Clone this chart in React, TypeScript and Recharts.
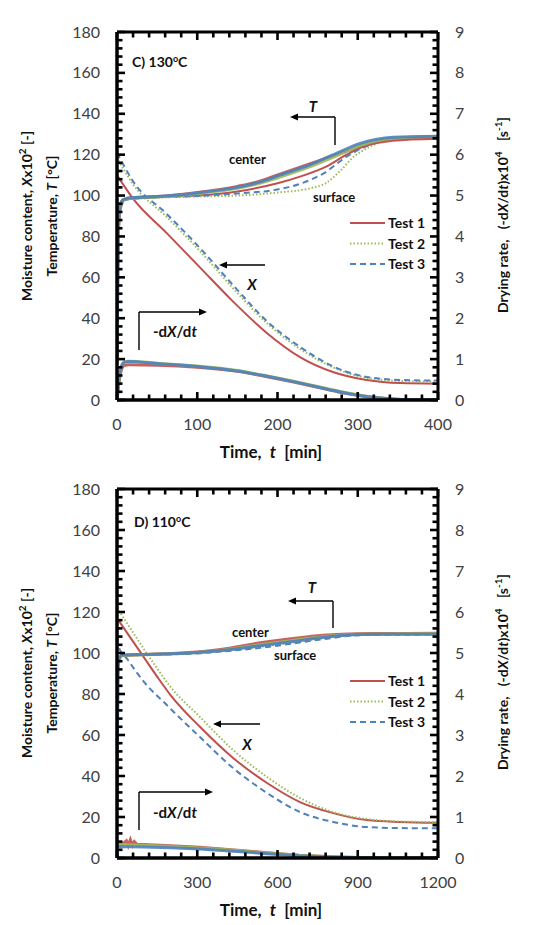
import React from 'react';
import { ComposedChart, Line, XAxis, YAxis } from 'recharts';

type Pt = [number, number];

const RED = '#C0504D';
const GREEN = '#9BBB59';
const BLUE = '#4F81BD';
const FONT = 'Lato, "Open Sans", sans-serif';

// Shared left/right axis ticks
const leftMajor = [0, 20, 40, 60, 80, 100, 120, 140, 160, 180];
const rightMajor = [0, 1, 2, 3, 4, 5, 6, 7, 8, 9];

// ---------- Panel C (130 °C) ----------
const cTimeMajor = [0, 100, 200, 300, 400];

const cCenterT1: Pt[] = [[0, 18], [1, 62], [2, 86], [4, 95], [8, 98], [20, 99], [50, 99.5], [100, 101.5], [150, 104.5], [178, 107], [203, 110.5], [240, 115.5], [274, 120], [303, 124], [344, 127], [400, 128]];
const cCenterT2: Pt[] = [[0, 19], [1, 60], [2, 85], [4, 94.5], [8, 97.8], [20, 98.8], [50, 99.3], [100, 101], [150, 103.5], [178, 106], [203, 109], [240, 114], [274, 119.5], [303, 124.5], [344, 128], [400, 129]];
const cCenterT3: Pt[] = [[0, 20], [1, 65], [2, 88], [4, 95.5], [8, 98], [20, 99], [50, 99.5], [100, 101.3], [150, 104], [178, 106.6], [203, 110], [240, 115], [274, 120.8], [303, 125.5], [344, 128.5], [400, 129]];

const cSurfT1: Pt[] = [[0, 18], [2, 80], [5, 94], [10, 98], [50, 99.3], [100, 100], [150, 102], [200, 106], [230, 109.5], [260, 114], [286, 120], [310, 124.5], [340, 127], [400, 128]];
const cSurfT2: Pt[] = [[0, 19], [2, 80], [5, 94], [10, 98], [50, 99], [100, 99.5], [150, 100], [200, 101.5], [240, 103.5], [260, 106], [278, 112], [295, 119], [311, 123], [328, 126], [350, 127.5], [400, 128.5]];
const cSurfT3: Pt[] = [[0, 20], [2, 82], [5, 95], [10, 98], [50, 99.2], [100, 99.8], [150, 101], [200, 103], [230, 106], [258, 111], [286, 119], [310, 124], [340, 127.5], [400, 129]];

const cX1: Pt[] = [[0, 110], [20, 98.5], [62, 81.6], [103, 65], [145, 48], [187, 32.7], [228, 21], [269, 13.7], [311, 9.8], [353, 8.3], [400, 8]];
const cX2: Pt[] = [[0, 118.5], [20, 105.5], [62, 89.5], [103, 73], [145, 54.5], [187, 37.5], [228, 25], [269, 16], [311, 10.8], [353, 9.3], [400, 9]];
const cX3: Pt[] = [[0, 121], [20, 107], [62, 91], [103, 74.5], [145, 56], [187, 38.5], [228, 26], [269, 16.5], [311, 11.3], [353, 9.8], [400, 9.5]];

const cRate1: Pt[] = [[0, 0], [2, 0.35], [5, 0.7], [9, 0.84], [15, 0.86], [50, 0.85], [100, 0.8], [150, 0.7], [187, 0.57], [220, 0.44], [250, 0.31], [280, 0.18], [311, 0.08], [340, 0.025], [370, 0.005], [400, 0]];
const cRate2: Pt[] = [[0, 0], [2, 0.4], [5, 0.78], [9, 0.93], [15, 0.95], [50, 0.9], [100, 0.83], [150, 0.72], [187, 0.59], [220, 0.46], [250, 0.33], [280, 0.2], [311, 0.09], [340, 0.03], [370, 0.005], [400, 0]];
const cRate3: Pt[] = [[0, 0], [2, 0.42], [5, 0.8], [9, 0.92], [15, 0.94], [50, 0.89], [100, 0.82], [150, 0.71], [187, 0.58], [220, 0.45], [250, 0.32], [280, 0.19], [311, 0.085], [340, 0.03], [370, 0.005], [400, 0]];

// ---------- Panel D (110 °C) ----------
const dTimeMajor = [0, 300, 600, 900, 1200];

const dCenterT1: Pt[] = [[0, 25], [3, 88], [8, 97], [20, 98.8], [100, 99.3], [200, 99.8], [300, 100.5], [400, 102], [535, 105], [650, 107], [785, 108.8], [900, 109.4], [1000, 109.5], [1200, 109.6]];
const dCenterT2: Pt[] = [[0, 26], [3, 88], [8, 97], [20, 98.8], [100, 99.2], [200, 99.6], [300, 100.3], [400, 101.5], [535, 104], [650, 106], [785, 108.2], [908, 109.2], [1200, 109.4]];
const dCenterT3: Pt[] = [[0, 28], [3, 90], [8, 97.5], [20, 99], [100, 99.3], [200, 99.6], [300, 100.2], [400, 101.3], [535, 103.5], [650, 105.5], [785, 107.8], [908, 109], [1000, 109.2], [1200, 109.2]];

const dSurfT1: Pt[] = [[0, 25], [3, 88], [8, 97], [20, 98.8], [100, 99.2], [200, 99.6], [300, 100.2], [400, 101.3], [535, 103.8], [650, 106], [785, 108.2], [900, 109.2], [1200, 109.5]];
const dSurfT2: Pt[] = [[0, 26], [3, 88], [8, 97], [20, 98.7], [100, 99], [200, 99.4], [300, 100], [400, 101], [535, 103], [650, 105], [785, 107.5], [908, 109], [1200, 109.2]];
const dSurfT3: Pt[] = [[0, 28], [3, 90], [8, 97.5], [20, 98.8], [100, 99], [200, 99.3], [300, 99.8], [400, 100.8], [535, 102.5], [650, 104.5], [785, 107], [908, 108.7], [1200, 109]];

const dX1: Pt[] = [[0, 117], [50, 107.5], [100, 98], [150, 88.5], [200, 79.5], [310, 64], [434, 48.8], [561, 36.6], [684, 27.3], [808, 21.9], [934, 18.5], [1058, 17.6], [1200, 17.2]];
const dX2: Pt[] = [[0, 122], [50, 112], [100, 102], [150, 92.5], [200, 83.5], [310, 68.8], [434, 52.7], [561, 39.5], [684, 29.3], [808, 22.4], [934, 19], [1058, 17.8], [1200, 17.5]];
const dX3: Pt[] = [[0, 112], [3, 104], [41, 96.6], [97, 86.5], [187, 74.5], [310, 59], [434, 43.9], [561, 31.7], [684, 22.4], [808, 17.6], [934, 15.1], [1058, 14.6], [1200, 14.5]];

const dRate1: Pt[] = [[0, 0], [1, 0.36], [20, 0.34], [35, 0.42], [42, 0.3], [50, 0.45], [58, 0.31], [65, 0.4], [75, 0.33], [100, 0.33], [200, 0.3], [310, 0.26], [450, 0.19], [561, 0.13], [680, 0.07], [808, 0.03], [900, 0.012], [1000, 0.004], [1200, 0]];
const dRate2: Pt[] = [[0, 0], [1, 0.33], [100, 0.31], [200, 0.28], [310, 0.245], [450, 0.18], [561, 0.12], [680, 0.065], [808, 0.025], [900, 0.01], [1200, 0]];
const dRate3: Pt[] = [[0, 0], [1, 0.28], [100, 0.27], [200, 0.25], [310, 0.22], [450, 0.16], [561, 0.105], [680, 0.055], [808, 0.02], [900, 0.006], [1200, 0]];

const legendNames = ['Test 1', 'Test 2', 'Test 3'];

const toRows = (pts: Pt[]) => pts.map(([t, y]) => ({ t, y }));

// Split the span between consecutive major ticks into five minor steps
const withMinor = (majors: number[], parts = 5) => {
  const out: number[] = [];
  for (let i = 0; i < majors.length - 1; i++) {
    const step = (majors[i + 1] - majors[i]) / parts;
    for (let k = 0; k < parts; k++) out.push(+(majors[i] + k * step).toFixed(6));
  }
  out.push(majors[majors.length - 1]);
  return out;
};

const isMajor = (v: number, majors: number[]) => majors.some((m) => Math.abs(m - v) < 1e-6);

const TICK_COLOR = '#404040';

// Tick labels (major values only)
const makeBottomLabel = (majors: number[]) => (p: any) => {
  const { x, y, payload } = p;
  if (!isMajor(payload.value, majors)) return <g />;
  return (
    <text x={x} y={Number(y) + 30} textAnchor="middle" fontFamily={FONT} fontSize={16} fill={TICK_COLOR}>
      {payload.value}
    </text>
  );
};

const makeLeftLabel = (majors: number[]) => (p: any) => {
  const { x, y, payload } = p;
  if (!isMajor(payload.value, majors)) return <g />;
  return (
    <text x={Number(x) - 17} y={y} dy="0.35em" textAnchor="end" fontFamily={FONT} fontSize={16} fill={TICK_COLOR}>
      {payload.value}
    </text>
  );
};

const makeRightLabel = (majors: number[]) => (p: any) => {
  const { x, y, payload } = p;
  if (!isMajor(payload.value, majors)) return <g />;
  return (
    <text x={Number(x) + 17} y={y} dy="0.35em" textAnchor="start" fontFamily={FONT} fontSize={16} fill={TICK_COLOR}>
      {payload.value}
    </text>
  );
};

type Box = { l: number; r: number; t: number; b: number };

// Inward tick marks around a plot frame
const FrameTicks = ({ box, xMajor }: { box: Box; xMajor: number[] }) => {
  const x0 = xMajor[0];
  const x1 = xMajor[xMajor.length - 1];
  const sx = (v: number) => box.l + ((v - x0) / (x1 - x0)) * (box.r - box.l);
  const yl0 = leftMajor[0];
  const yl1 = leftMajor[leftMajor.length - 1];
  const syL = (v: number) => box.b - ((v - yl0) / (yl1 - yl0)) * (box.b - box.t);
  const yr1 = rightMajor[rightMajor.length - 1];
  const syR = (v: number) => box.b - (v / yr1) * (box.b - box.t);
  const MAJ = 8;
  const MIN = 5.5;
  const marks: React.ReactNode[] = [];
  withMinor(xMajor).forEach((v, i) => {
    const len = isMajor(v, xMajor) ? MAJ : MIN;
    const x = sx(v);
    marks.push(<line key={`b${i}`} x1={x} y1={box.b} x2={x} y2={box.b - len} />);
    marks.push(<line key={`t${i}`} x1={x} y1={box.t} x2={x} y2={box.t + len} />);
  });
  withMinor(leftMajor).forEach((v, i) => {
    const len = isMajor(v, leftMajor) ? MAJ : MIN;
    const y = syL(v);
    marks.push(<line key={`l${i}`} x1={box.l} y1={y} x2={box.l + len} y2={y} />);
  });
  withMinor(rightMajor).forEach((v, i) => {
    const len = isMajor(v, rightMajor) ? MAJ : MIN;
    const y = syR(v);
    marks.push(<line key={`r${i}`} x1={box.r} y1={y} x2={box.r - len} y2={y} />);
  });
  return (
    <g stroke="#000" strokeWidth={2.6}>
      {marks}
    </g>
  );
};

type PanelProps = {
  timeMajor: number[];
  centerT: Pt[][];
  surfT: Pt[][];
  moist: Pt[][];
  rate: Pt[][];
  height: number;
  margin: { top: number; right: number; bottom: number; left: number };
  rateCurve: 'monotone' | 'linear';
};

const colors = [RED, GREEN, BLUE];
const dashes = [undefined, '1.5 2', '6 4'];

const Panel = ({ timeMajor, centerT, surfT, moist, rate, height, margin, rateCurve }: PanelProps) => {
  const xDomain: [number, number] = [timeMajor[0], timeMajor[timeMajor.length - 1]];
  return (
    <ComposedChart width={535} height={height} margin={margin}>
      {/* drying rate, right axis */}
      {rate.map((pts, i) => (
        <Line
          key={`r${i}`}
          yAxisId="right"
          data={toRows(pts)}
          dataKey="y"
          type={rateCurve}
          stroke={colors[i]}
          strokeWidth={3}
          strokeOpacity={0.9}
          dot={false}
          activeDot={false}
          isAnimationActive={false}
        />
      ))}
      {/* moisture content */}
      {moist.map((pts, i) => (
        <Line
          key={`x${i}`}
          yAxisId="left"
          data={toRows(pts)}
          dataKey="y"
          type="monotone"
          stroke={colors[i]}
          strokeWidth={2}
          strokeDasharray={dashes[i]}
          dot={false}
          activeDot={false}
          isAnimationActive={false}
        />
      ))}
      {/* surface temperature */}
      {surfT.map((pts, i) => (
        <Line
          key={`s${i}`}
          yAxisId="left"
          data={toRows(pts)}
          dataKey="y"
          type="monotone"
          stroke={colors[i]}
          strokeWidth={2}
          strokeDasharray={dashes[i]}
          dot={false}
          activeDot={false}
          isAnimationActive={false}
        />
      ))}
      {/* center temperature */}
      {centerT.map((pts, i) => (
        <Line
          key={`c${i}`}
          yAxisId="left"
          data={toRows(pts)}
          dataKey="y"
          type="monotone"
          stroke={colors[i]}
          strokeWidth={3}
          strokeOpacity={0.9}
          dot={false}
          activeDot={false}
          isAnimationActive={false}
        />
      ))}
      <XAxis
        xAxisId={0}
        type="number"
        dataKey="t"
        domain={xDomain}
        ticks={timeMajor}
        interval={0}
        allowDataOverflow
        height={30}
        tickSize={0}
        tickMargin={0}
        tickLine={false}
        axisLine={{ stroke: '#000', strokeWidth: 3.5 }}
        tick={makeBottomLabel(timeMajor)}
      />
      <XAxis
        xAxisId="top"
        orientation="top"
        type="number"
        dataKey="t"
        domain={xDomain}
        ticks={timeMajor}
        allowDataOverflow
        height={1}
        tick={false}
        tickLine={false}
        axisLine={{ stroke: '#000', strokeWidth: 3 }}
      />
      <YAxis
        yAxisId="left"
        type="number"
        domain={[0, 180]}
        ticks={leftMajor}
        interval={0}
        allowDataOverflow
        width={60}
        tickSize={0}
        tickMargin={0}
        tickLine={false}
        axisLine={{ stroke: '#000', strokeWidth: 3.5 }}
        tick={makeLeftLabel(leftMajor)}
      />
      <YAxis
        yAxisId="right"
        orientation="right"
        type="number"
        domain={[0, 9]}
        ticks={rightMajor}
        interval={0}
        allowDataOverflow
        width={57}
        tickSize={0}
        tickMargin={0}
        tickLine={false}
        axisLine={{ stroke: '#000', strokeWidth: 3 }}
        tick={makeRightLabel(rightMajor)}
      />
    </ComposedChart>
  );
};

const Arrow = ({ x1, y1, x2, y2 }: { x1: number; y1: number; x2: number; y2: number }) => {
  const ang = Math.atan2(y2 - y1, x2 - x1);
  const L = 8;
  const W = 3.5;
  const bx = x2 - L * Math.cos(ang);
  const by = y2 - L * Math.sin(ang);
  const px = -Math.sin(ang) * W;
  const py = Math.cos(ang) * W;
  return (
    <g>
      <line x1={x1} y1={y1} x2={bx} y2={by} stroke="#000" strokeWidth={1.4} />
      <polygon points={`${x2},${y2} ${bx + px},${by + py} ${bx - px},${by - py}`} fill="#000" />
    </g>
  );
};

const Legend = ({ top }: { top: number }) => (
  <g>
    {legendNames.map((n, i) => (
      <g key={n}>
        <line x1={350} y1={top + i * 20.5} x2={385} y2={top + i * 20.5} stroke={colors[i]} strokeWidth={2} strokeDasharray={dashes[i]} />
        <text x={388} y={top + i * 20.5 + 5} fontFamily={FONT} fontWeight={700} fontSize={14} fill="#111">
          {n}
        </text>
      </g>
    ))}
  </g>
);

const AxisTitles = ({ off, mid }: { off: number; mid: number }) => (
  <g fontFamily={FONT} fontWeight={700} fill="#111">
    <text transform={`translate(32,${mid}) rotate(-90)`} textAnchor="middle" fontSize={14} xmlSpace="preserve">
      Moisture content, <tspan fontStyle="italic">X</tspan>x10<tspan dy={-6} fontSize={10}>2</tspan>
      <tspan dy={6}> [-]</tspan>
    </text>
    <text transform={`translate(57,${mid}) rotate(-90)`} textAnchor="middle" fontSize={14} xmlSpace="preserve">
      Temperature, <tspan fontStyle="italic">T</tspan> [°C]
    </text>
    <text transform={`translate(508,${mid - 1}) rotate(-90)`} textAnchor="middle" fontSize={14} xmlSpace="preserve">
      {'Drying rate,   (-d'}<tspan fontStyle="italic">X</tspan>/d<tspan fontStyle="italic">t</tspan>)x10
      <tspan dy={-6} fontSize={10}>4</tspan>
      <tspan dy={6}>{'   [s'}</tspan>
      <tspan dy={-6} fontSize={10}>-1</tspan>
      <tspan dy={6}>]</tspan>
    </text>
    <text x={271} y={off + 458} textAnchor="middle" fontSize={17} xmlSpace="preserve">
      {'Time,  '}<tspan fontStyle="italic">t</tspan>{'  [min]'}
    </text>
  </g>
);

const Annotations = () => (
  <svg width={535} height={925} style={{ position: 'absolute', left: 0, top: 0, pointerEvents: 'none' }}>
    {/* panel C */}
    <FrameTicks box={{ l: 117, r: 438, t: 32, b: 400 }} xMajor={cTimeMajor} />
    <AxisTitles off={0} mid={216} />
    <text x={132} y={67} fontFamily={FONT} fontWeight={700} fontSize={14} fill="#111">
      C) 130<tspan dy={-5} fontSize={9}>o</tspan><tspan dy={5}>C</tspan>
    </text>
    <text x={313} y={112} textAnchor="middle" fontFamily={FONT} fontWeight={700} fontStyle="italic" fontSize={15} fill="#111">T</text>
    <line x1={335} y1={145} x2={335} y2={117} stroke="#000" strokeWidth={1.4} />
    <Arrow x1={335} y1={117} x2={290} y2={117} />
    <text x={229} y={164} fontFamily={FONT} fontWeight={700} fontSize={13} fill="#111">center</text>
    <text x={313} y={202} fontFamily={FONT} fontWeight={700} fontSize={13} fill="#111">surface</text>
    <Legend top={223} />
    <Arrow x1={265} y1={265} x2={219} y2={265} />
    <text x={252} y={290} textAnchor="middle" fontFamily={FONT} fontWeight={700} fontStyle="italic" fontSize={15} fill="#111">X</text>
    <line x1={139} y1={350} x2={139} y2={312} stroke="#000" strokeWidth={1.4} />
    <Arrow x1={139} y1={312} x2={207} y2={312} />
    <text x={153} y={337} fontFamily={FONT} fontWeight={700} fontSize={15} fill="#111">
      -d<tspan fontStyle="italic">X</tspan>/d<tspan fontStyle="italic">t</tspan>
    </text>

    {/* panel D */}
    <FrameTicks box={{ l: 117, r: 438, t: 489, b: 858 }} xMajor={dTimeMajor} />
    <AxisTitles off={458} mid={673} />
    <text x={134} y={527} fontFamily={FONT} fontWeight={700} fontSize={14} fill="#111">
      D) 110<tspan dy={-5} fontSize={9}>o</tspan><tspan dy={5}>C</tspan>
    </text>
    <text x={312} y={593} textAnchor="middle" fontFamily={FONT} fontWeight={700} fontStyle="italic" fontSize={15} fill="#111">T</text>
    <line x1={333} y1={628} x2={333} y2={601} stroke="#000" strokeWidth={1.4} />
    <Arrow x1={333} y1={601} x2={288} y2={601} />
    <text x={232} y={637} fontFamily={FONT} fontWeight={700} fontSize={13} fill="#111">center</text>
    <text x={274} y={660} fontFamily={FONT} fontWeight={700} fontSize={13} fill="#111">surface</text>
    <Legend top={681} />
    <Arrow x1={260} y1={724} x2={213} y2={724} />
    <text x={247} y={750} textAnchor="middle" fontFamily={FONT} fontWeight={700} fontStyle="italic" fontSize={15} fill="#111">X</text>
    <line x1={139} y1={830} x2={139} y2={792} stroke="#000" strokeWidth={1.4} />
    <Arrow x1={139} y1={792} x2={213} y2={792} />
    <text x={153} y={818} fontFamily={FONT} fontWeight={700} fontSize={15} fill="#111">
      -d<tspan fontStyle="italic">X</tspan>/d<tspan fontStyle="italic">t</tspan>
    </text>
  </svg>
);

export default function App() {
  return (
    <div style={{ position: 'absolute', left: 0, top: 0, width: 535, height: 925, background: '#fff' }}>
      <div style={{ position: 'absolute', left: 0, top: 0 }}>
        <Panel
          timeMajor={cTimeMajor}
          centerT={[cCenterT1, cCenterT2, cCenterT3]}
          surfT={[cSurfT1, cSurfT2, cSurfT3]}
          moist={[cX1, cX2, cX3]}
          rate={[cRate1, cRate2, cRate3]}
          height={462}
          margin={{ top: 31, right: 40, bottom: 32, left: 57 }}
          rateCurve="monotone"
        />
      </div>
      <div style={{ position: 'absolute', left: 0, top: 462 }}>
        <Panel
          timeMajor={dTimeMajor}
          centerT={[dCenterT1, dCenterT2, dCenterT3]}
          surfT={[dSurfT1, dSurfT2, dSurfT3]}
          moist={[dX1, dX2, dX3]}
          rate={[dRate1, dRate2, dRate3]}
          height={463}
          margin={{ top: 26, right: 40, bottom: 37, left: 57 }}
          rateCurve="linear"
        />
      </div>
      <Annotations />
    </div>
  );
}
